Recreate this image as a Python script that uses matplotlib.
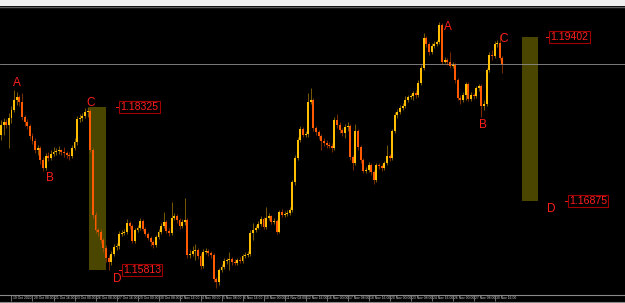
import numpy as np
import matplotlib
matplotlib.use("Agg")
import matplotlib.pyplot as plt
from matplotlib.patches import Rectangle
from matplotlib.lines import Line2D

# H4 candles (open of each bar = previous close)
first_open = 1.1789
closes = [
    1.1805, 1.1809, 1.1805, 1.1816, 1.1828, 1.1843, 1.1848, 1.1840, 1.1817, 1.1809,
    1.1803, 1.1788, 1.1780, 1.1766, 1.1769, 1.1751, 1.1738, 1.1757, 1.1754, 1.1760,
    1.1763, 1.1765, 1.1766, 1.1763, 1.1762, 1.1759, 1.1757, 1.1769, 1.1779, 1.1814,
    1.1816, 1.1819, 1.1825, 1.1826, 1.1766, 1.1666, 1.1643, 1.1640, 1.1628, 1.1615,
    1.1600, 1.1594, 1.1606, 1.1617, 1.1618, 1.1637, 1.1638, 1.1640, 1.1654, 1.1649,
    1.1626, 1.1643, 1.1646, 1.1657, 1.1644, 1.1637, 1.1631, 1.1624, 1.1620, 1.1632,
    1.1640, 1.1649, 1.1655, 1.1641, 1.1638, 1.1661, 1.1665, 1.1658, 1.1649, 1.1655,
    1.1658, 1.1604, 1.1606, 1.1611, 1.1612, 1.1603, 1.1588, 1.1609, 1.1611, 1.1608,
    1.1604, 1.1567, 1.1563, 1.1581, 1.1586, 1.1595, 1.1597, 1.1598, 1.1594, 1.1592,
    1.1597, 1.1595, 1.1603, 1.1604, 1.1606, 1.1638, 1.1643, 1.1646, 1.1652, 1.1660,
    1.1648, 1.1661, 1.1665, 1.1655, 1.1657, 1.1640, 1.1671, 1.1666, 1.1668, 1.1669,
    1.1674, 1.1717, 1.1754, 1.1782, 1.1799, 1.1789, 1.1791, 1.1840, 1.1843, 1.1800,
    1.1794, 1.1788, 1.1780, 1.1777, 1.1774, 1.1772, 1.1769, 1.1812, 1.1805, 1.1797,
    1.1792, 1.1802, 1.1803, 1.1755, 1.1746, 1.1796, 1.1771, 1.1751, 1.1734, 1.1735,
    1.1743, 1.1732, 1.1720, 1.1743, 1.1742, 1.1738, 1.1746, 1.1757, 1.1754, 1.1796,
    1.1820, 1.1825, 1.1831, 1.1834, 1.1843, 1.1848, 1.1849, 1.1854, 1.1851, 1.1870,
    1.1893, 1.1939, 1.1930, 1.1917, 1.1927, 1.1930, 1.1933, 1.1959, 1.1902, 1.1905,
    1.1902, 1.1896, 1.1897, 1.1874, 1.1846, 1.1843, 1.1851, 1.1868, 1.1845, 1.1851,
    1.1849, 1.1862, 1.1865, 1.1834, 1.1837, 1.1890, 1.1913, 1.1911, 1.1930, 1.1931,
    1.1908, 1.1899,
]
highs = [
    1.1812, 1.1816, 1.1814, 1.1823, 1.1834, 1.1859, 1.1856, 1.1851, 1.1854, 1.1820,
    1.1814, 1.1806, 1.1792, 1.1785, 1.1774, 1.1772, 1.1755, 1.1762, 1.1763, 1.1766,
    1.1771, 1.1769, 1.1772, 1.1768, 1.1771, 1.1765, 1.1763, 1.1774, 1.1785, 1.1819,
    1.1822, 1.1823, 1.1831, 1.1832, 1.1829, 1.1769, 1.1671, 1.1646, 1.1644, 1.1631,
    1.1620, 1.1604, 1.1611, 1.1621, 1.1623, 1.1641, 1.1643, 1.1644, 1.1660, 1.1657,
    1.1652, 1.1646, 1.1651, 1.1661, 1.1660, 1.1648, 1.1640, 1.1634, 1.1628, 1.1635,
    1.1644, 1.1654, 1.1671, 1.1658, 1.1646, 1.1686, 1.1669, 1.1668, 1.1661, 1.1660,
    1.1692, 1.1661, 1.1612, 1.1618, 1.1621, 1.1615, 1.1608, 1.1614, 1.1615, 1.1614,
    1.1611, 1.1608, 1.1571, 1.1584, 1.1591, 1.1600, 1.1600, 1.1609, 1.1601, 1.1598,
    1.1600, 1.1601, 1.1606, 1.1609, 1.1611, 1.1643, 1.1654, 1.1651, 1.1657, 1.1665,
    1.1663, 1.1678, 1.1669, 1.1666, 1.1661, 1.1660, 1.1674, 1.1675, 1.1672, 1.1674,
    1.1678, 1.1720, 1.1759, 1.1786, 1.1803, 1.1802, 1.1796, 1.1854, 1.1862, 1.1846,
    1.1803, 1.1797, 1.1791, 1.1785, 1.1782, 1.1779, 1.1777, 1.1817, 1.1822, 1.1809,
    1.1800, 1.1806, 1.1809, 1.1806, 1.1759, 1.1806, 1.1799, 1.1774, 1.1754, 1.1740,
    1.1748, 1.1746, 1.1735, 1.1746, 1.1746, 1.1745, 1.1749, 1.1774, 1.1760, 1.1799,
    1.1825, 1.1829, 1.1836, 1.1839, 1.1849, 1.1851, 1.1853, 1.1857, 1.1859, 1.1874,
    1.1897, 1.1947, 1.1942, 1.1933, 1.1931, 1.1934, 1.1936, 1.1964, 1.1962, 1.1910,
    1.1908, 1.1917, 1.1902, 1.1900, 1.1877, 1.1851, 1.1856, 1.1871, 1.1871, 1.1856,
    1.1854, 1.1865, 1.1868, 1.1868, 1.1843, 1.1893, 1.1917, 1.1920, 1.1934, 1.1936,
    1.1944, 1.1911,
]
lows = [
    1.1782, 1.1789, 1.1800, 1.1769, 1.1808, 1.1825, 1.1836, 1.1834, 1.1812, 1.1803,
    1.1799, 1.1783, 1.1776, 1.1762, 1.1759, 1.1745, 1.1734, 1.1735, 1.1749, 1.1751,
    1.1757, 1.1759, 1.1760, 1.1759, 1.1755, 1.1754, 1.1751, 1.1754, 1.1766, 1.1774,
    1.1809, 1.1811, 1.1816, 1.1817, 1.1763, 1.1661, 1.1638, 1.1634, 1.1623, 1.1609,
    1.1594, 1.1581, 1.1589, 1.1603, 1.1612, 1.1614, 1.1634, 1.1635, 1.1637, 1.1644,
    1.1623, 1.1623, 1.1640, 1.1643, 1.1641, 1.1634, 1.1628, 1.1618, 1.1615, 1.1617,
    1.1629, 1.1637, 1.1646, 1.1638, 1.1634, 1.1635, 1.1658, 1.1654, 1.1644, 1.1646,
    1.1651, 1.1600, 1.1600, 1.1603, 1.1597, 1.1598, 1.1583, 1.1584, 1.1606, 1.1603,
    1.1600, 1.1563, 1.1554, 1.1558, 1.1578, 1.1583, 1.1591, 1.1581, 1.1589, 1.1589,
    1.1589, 1.1592, 1.1592, 1.1600, 1.1601, 1.1603, 1.1628, 1.1640, 1.1644, 1.1649,
    1.1644, 1.1644, 1.1658, 1.1652, 1.1652, 1.1637, 1.1638, 1.1663, 1.1663, 1.1665,
    1.1666, 1.1671, 1.1712, 1.1751, 1.1779, 1.1786, 1.1786, 1.1786, 1.1837, 1.1796,
    1.1789, 1.1783, 1.1766, 1.1772, 1.1769, 1.1769, 1.1763, 1.1766, 1.1800, 1.1792,
    1.1788, 1.1785, 1.1796, 1.1751, 1.1735, 1.1743, 1.1766, 1.1746, 1.1731, 1.1731,
    1.1732, 1.1728, 1.1714, 1.1717, 1.1737, 1.1734, 1.1735, 1.1743, 1.1749, 1.1751,
    1.1792, 1.1816, 1.1822, 1.1828, 1.1831, 1.1840, 1.1845, 1.1843, 1.1846, 1.1848,
    1.1866, 1.1890, 1.1925, 1.1913, 1.1914, 1.1923, 1.1927, 1.1930, 1.1899, 1.1900,
    1.1897, 1.1893, 1.1893, 1.1870, 1.1843, 1.1837, 1.1840, 1.1843, 1.1842, 1.1842,
    1.1845, 1.1846, 1.1857, 1.1817, 1.1828, 1.1834, 1.1886, 1.1905, 1.1908, 1.1925,
    1.1905, 1.1885,
]

# time axis labels, one every 8 bars
tick_bars = list(range(4, 192, 8))
tick_labels = [
    "19 Oct 2020", "20 Oct 08:00", "21 Oct 16:00", "23 Oct 00:00", "26 Oct 08:00",
    "27 Oct 16:00", "29 Oct 00:00", "30 Oct 08:00", "2 Nov 16:00", "4 Nov 00:00",
    "5 Nov 08:00", "6 Nov 16:00", "10 Nov 00:00", "11 Nov 08:00", "12 Nov 16:00",
    "16 Nov 00:00", "17 Nov 08:00", "18 Nov 16:00", "20 Nov 00:00", "23 Nov 08:00",
    "24 Nov 16:00", "26 Nov 00:00", "27 Nov 08:00", "30 Nov 16:00",
]

# C-D projection zones (bar from, bar to, top price, bottom price)
zone_from = [33.5, 198.5]
zone_to = [40.0, 204.5]
zone_top = [1.18325, 1.19402]
zone_bottom = [1.15813, 1.16875]

# ABCD letters
wave_letters = ["A", "B", "C", "D", "A", "B", "C", "D"]
letter_bars = [6.0, 18.7, 34.2, 44.3, 170.2, 183.7, 191.6, 209.5]
letter_prices = [1.1869, 1.1723, 1.1839, 1.1567, 1.1955, 1.1805, 1.1937, 1.1676]

# price level tags
level_prices = [1.18325, 1.15813, 1.19402, 1.16875]
level_bars = [45.0, 46.1, 208.9, 216.0]

BULL = "#ffbf00"
BEAR = "#ff5a00"
RED = "#ff1e1e"

plt.rcParams["font.family"] = ["Liberation Sans", "DejaVu Sans"]

fig = plt.figure(figsize=(6.25, 3.03), dpi=100, facecolor="black")
H = 303.0
ax = fig.add_axes([0, 8 / H, 1, 286 / H])
ax.set_facecolor("black")
for s in ax.spines.values():
    s.set_visible(False)
ax.set_xticks([])
ax.set_yticks([])

opens = np.array([first_open] + closes[:-1])
c = np.array(closes)
x = np.arange(len(c))
cols = np.where(c >= opens, BULL, BEAR)

# zones behind the candles
for b0, b1, pt, pb in zip(zone_from, zone_to, zone_top, zone_bottom):
    ax.add_patch(Rectangle((b0, pb), b1 - b0, pt - pb, facecolor="#4a4600",
                           edgecolor="none", zorder=1))

# bid line
ax.axhline(closes[-1], color="#8f8f8f", linewidth=0.6, zorder=1.5)

ax.vlines(x, lows, highs, colors=cols, linewidth=0.6, alpha=0.55, zorder=2)
body = np.maximum(np.abs(c - opens), 0.00008)
ax.bar(x, body, bottom=np.minimum(opens, c), width=0.75, color=cols,
       linewidth=0, zorder=3)

for s, b, p in zip(wave_letters, letter_bars, letter_prices):
    ax.text(b, p, s, color=RED, fontsize=8.5, ha="center", va="center", zorder=5)

for p, b in zip(level_prices, level_bars):
    ax.plot([b - 1.2, b - 0.3], [p, p], color=RED, linewidth=0.7, zorder=5)
    ax.text(b + 0.4, p, f"{p:.5f}", color=RED, fontsize=7.6, ha="left", va="center",
            zorder=5,
            bbox=dict(boxstyle="square,pad=0.12", facecolor="black",
                      edgecolor="#a00000", linewidth=0.8))

ax.set_xlim(-0.38, 237.7)
ax.set_ylim(1.15428, 1.19835)

# time axis
trans = ax.get_xaxis_transform()
ax.vlines(tick_bars, -0.022, 0, colors="#a0a0a0", linewidth=0.5,
          transform=trans, clip_on=False)
for b, lab in zip(tick_bars, tick_labels):
    ax.text(b + 0.4, -0.011, lab, color="#d8d8d8", fontsize=2.4, ha="left",
            va="center", transform=trans, clip_on=False)

# window frame: light toolbar strip on top, grey lines at the bottom
fig.patches.append(Rectangle((0, (H - 6) / H), 1, 6 / H, transform=fig.transFigure,
                             facecolor="#efefef", edgecolor="none"))
fig.lines.append(Line2D([0, 1], [(H - 7) / H] * 2, transform=fig.transFigure,
                        color="#5a5a5a", linewidth=1.0))
fig.lines.append(Line2D([0, 1], [(H - 295.3) / H] * 2, transform=fig.transFigure,
                        color="#8a8a8a", linewidth=0.8))
fig.lines.append(Line2D([0, 1], [1.3 / H] * 2, transform=fig.transFigure,
                        color="#8a8a8a", linewidth=0.8))

fig.savefig("out.png", dpi=100, facecolor="black")
